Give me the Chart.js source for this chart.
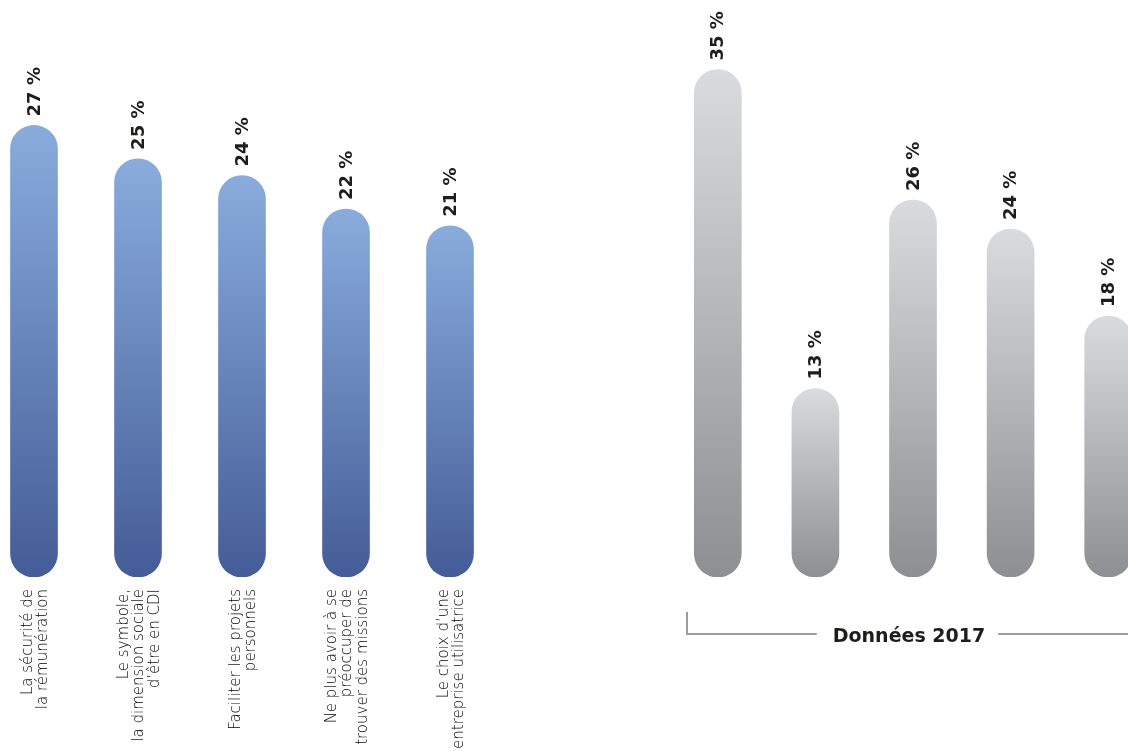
<!DOCTYPE html>
<html lang="fr">
<head>
<meta charset="utf-8">
<title>Motivations</title>
<script src="https://cdn.jsdelivr.net/npm/chart.js@4/dist/chart.umd.min.js"></script>
<style>
  html, body { margin: 0; padding: 0; background: #fff; }
  body { width: 1128px; height: 751px; overflow: hidden; position: relative; }
  #leftChart { position: absolute; left: -18px; top: 0; }
  #rightChart { position: absolute; left: 669px; top: 0; }
</style>
</head>
<body>
<canvas id="leftChart" width="520" height="751"></canvas>
<canvas id="rightChart" width="488" height="751"></canvas>
<script>
const categories = [
  ['La sécurité de', 'la rémunération'],
  ['Le symbole,', 'la dimension sociale', 'd’être en CDI'],
  ['Faciliter les projets', 'personnels'],
  ['Ne plus avoir à se', 'préoccuper de', 'trouver des missions'],
  ['Le choix d’une', 'entreprise utilisatrice']
];
const valeursActuelles = [27, 25, 24, 22, 21];
const valeurs2017 = [35, 13, 26, 24, 18];
const titre2017 = 'Données 2017';

const FONT = '"DejaVu Sans", "Noto Sans", sans-serif';

// gradient per bar, light at the top, dark at the base
function barGradient(top, bottom) {
  return (context) => {
    const chart = context.chart;
    if (!chart.chartArea || context.type !== 'data') return bottom;
    const y = chart.scales.y;
    const yTop = y.getPixelForValue(context.raw);
    const yBase = y.getPixelForValue(0);
    const g = chart.ctx.createLinearGradient(0, yTop, 0, yBase);
    g.addColorStop(0, top);
    g.addColorStop(1, bottom);
    return g;
  };
}

const valueLabels = {
  id: 'valueLabels',
  afterDatasetsDraw(chart) {
    const ctx = chart.ctx;
    const meta = chart.getDatasetMeta(0);
    ctx.save();
    ctx.fillStyle = '#1d1d1b';
    ctx.font = 'bold 18px ' + FONT;
    ctx.textAlign = 'left';
    ctx.textBaseline = 'middle';
    meta.data.forEach((bar, i) => {
      ctx.save();
      ctx.translate(bar.x + 1, bar.y - 9);
      ctx.rotate(-Math.PI / 2);
      ctx.fillText(chart.data.datasets[0].data[i] + ' %', 0, 0);
      ctx.restore();
    });
    ctx.restore();
  }
};

// rotated, multi-line category labels centred on each bar
const categoryLabels = {
  id: 'categoryLabels',
  afterDraw(chart) {
    const ctx = chart.ctx;
    const x = chart.scales.x;
    const top = chart.chartArea.bottom + 12;
    const lh = 15.5;
    ctx.save();
    ctx.fillStyle = '#000';
    ctx.font = '200 15px ' + FONT;
    ctx.textAlign = 'right';
    ctx.textBaseline = 'middle';
    chart.data.labels.forEach((lines, i) => {
      const cx = x.getPixelForValue(i) + 1.5;
      lines.forEach((line, k) => {
        ctx.save();
        ctx.translate(cx + (k - (lines.length - 1) / 2) * lh, top);
        ctx.rotate(-Math.PI / 2);
        ctx.fillText(line, 0, 0);
        ctx.restore();
      });
    });
    ctx.restore();
  }
};

const bracket = {
  id: 'bracket',
  afterDraw(chart) {
    const ctx = chart.ctx;
    const area = chart.chartArea;
    const yLine = area.bottom + 57;
    ctx.save();
    ctx.font = 'bold 19px ' + FONT;
    const w = ctx.measureText(titre2017).width;
    const cx = (area.left + area.right) / 2 - 4;
    ctx.strokeStyle = '#9d9d9f';
    ctx.lineWidth = 2;
    ctx.beginPath();
    ctx.moveTo(area.left + 18, yLine - 22);
    ctx.lineTo(area.left + 18, yLine);
    ctx.lineTo(cx - w / 2 - 16, yLine);
    ctx.moveTo(cx + w / 2 + 13, yLine);
    ctx.lineTo(chart.width, yLine);
    ctx.stroke();
    ctx.fillStyle = '#1d1d1b';
    ctx.textAlign = 'center';
    ctx.textBaseline = 'middle';
    ctx.fillText(titre2017, cx, yLine + 3);
    ctx.restore();
  }
};

function makeOptions(yMax) {
  return {
    responsive: false,
    animation: false,
    layout: { padding: 0 },
    plugins: { legend: { display: false }, tooltip: { enabled: false } },
    scales: {
      x: {
        grid: { display: false, drawTicks: false },
        border: { display: false },
        afterFit: (scale) => { scale.height = 174; },
        ticks: { display: false }
      },
      y: { display: false, min: 0, max: yMax }
    }
  };
}

new Chart(document.getElementById('leftChart'), {
  type: 'bar',
  data: {
    labels: categories,
    datasets: [{
      data: valeursActuelles,
      backgroundColor: barGradient('#89acdc', '#445c97'),
      barThickness: 47,
      borderRadius: 30,
      borderSkipped: false
    }]
  },
  options: makeOptions(34.5),
  plugins: [valueLabels, categoryLabels]
});

new Chart(document.getElementById('rightChart'), {
  type: 'bar',
  data: {
    labels: categories,
    datasets: [{
      data: valeurs2017,
      backgroundColor: barGradient('#dadbdd', '#8e8f92'),
      barThickness: 47,
      borderRadius: 30,
      borderSkipped: false
    }]
  },
  options: makeOptions(39.8),
  plugins: [valueLabels, bracket]
});
</script>
</body>
</html>
